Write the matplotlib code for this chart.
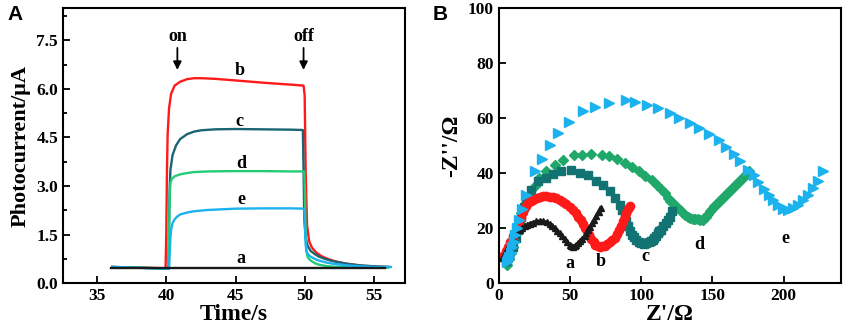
import matplotlib
matplotlib.use("Agg")
import matplotlib.pyplot as plt

plt.rcParams['font.family'] = ['Liberation Serif', 'DejaVu Serif']
plt.rcParams['font.weight'] = 'bold'

# ---- panel A : photocurrent vs time ----
t_a = [36.0, 55.8]
y_a = [0.47, 0.47]

t_b = [36.1, 39.95, 40.0, 40.05, 40.1, 40.2, 40.35, 40.6, 41.0, 41.5, 42.0, 42.5, 43.5, 45.0, 47.0, 49.0,
       49.9, 49.98, 50.05, 50.15, 50.3, 50.5, 50.8, 51.2, 51.7, 52.3, 53.0, 54.0, 55.0, 56.0]
y_b = [0.5, 0.46, 1.5, 3.5, 4.6, 5.4, 5.85, 6.1, 6.22, 6.3, 6.33, 6.33, 6.31, 6.26, 6.19, 6.13,
       6.1, 5.8, 3.5, 1.8, 1.3, 1.1, 0.95, 0.83, 0.74, 0.66, 0.6, 0.54, 0.51, 0.5]

t_c = [36.1, 40.15, 40.2, 40.25, 40.3, 40.45, 40.7, 41.0, 41.5, 42.0, 42.5, 43.5, 45.0, 47.0, 49.0,
       49.85, 49.9, 49.95, 50.05, 50.2, 50.4, 50.7, 51.0, 51.5, 52.0, 53.0, 54.0, 55.0, 56.0]
y_c = [0.5, 0.45, 1.8, 3.0, 3.5, 3.95, 4.25, 4.45, 4.6, 4.68, 4.72, 4.75, 4.76, 4.75, 4.74,
       4.73, 3.5, 2.0, 1.4, 1.15, 1.0, 0.9, 0.82, 0.74, 0.68, 0.6, 0.55, 0.52, 0.5]

t_d = [36.1, 40.15, 40.2, 40.25, 40.3, 40.4, 40.6, 41.0, 41.5, 42.0, 43.0, 45.0, 47.0, 49.0,
       49.95, 50.0, 50.05, 50.1, 50.2, 50.4, 50.7, 51.0, 51.5, 52.0, 53.0, 54.0, 55.0, 56.0]
y_d = [0.5, 0.45, 1.5, 2.7, 3.1, 3.22, 3.3, 3.36, 3.4, 3.43, 3.45, 3.46, 3.46, 3.45,
       3.45, 2.8, 1.6, 1.0, 0.8, 0.7, 0.62, 0.57, 0.53, 0.51, 0.49, 0.48, 0.48, 0.48]

t_e = [36.1, 40.2, 40.25, 40.3, 40.35, 40.45, 40.6, 40.8, 41.0, 41.5, 42.0, 43.0, 45.0, 47.0, 49.0,
       49.95, 50.0, 50.05, 50.1, 50.2, 50.4, 50.7, 51.0, 51.5, 52.0, 53.0, 54.0, 55.0, 56.2]
y_e = [0.5, 0.44, 0.9, 1.4, 1.65, 1.85, 1.97, 2.06, 2.12, 2.18, 2.22, 2.26, 2.3, 2.31, 2.31,
       2.3, 1.8, 1.2, 1.0, 0.9, 0.82, 0.75, 0.7, 0.64, 0.6, 0.55, 0.52, 0.5, 0.5]

# ---- panel B : Nyquist plots ----
zr_a = [2.5, 4, 6, 8, 10, 12, 14.7, 16.5, 18.2, 20, 21.7, 24, 26.4, 29, 31.1, 33.5, 35.7, 37.5, 39.3, 41, 42.8,
        44.5, 46.3, 48, 49.8, 51, 52.1, 53.3, 54.4, 55.6, 56.8, 58.5, 60.3, 61.5, 62.6, 64, 65.7, 67, 68.5, 70, 71.5]
zi_a = [9.0, 10.5, 12.5, 14.5, 16.5, 18.0, 19.4, 20.0, 20.6, 21.1, 21.6, 22.0, 22.4, 22.5, 22.4, 22.1, 21.6, 20.9, 20.0, 19.1, 18.2,
        17.1, 16.0, 14.9, 13.9, 13.5, 13.3, 13.5, 13.9, 14.5, 15.2, 16.1, 17.0, 18.2, 19.4, 20.5, 21.8, 23.1, 24.5, 25.9, 27.3]

zr_b = [3, 5, 6.5, 8, 10, 12, 13.6, 15.5, 17, 19, 20.6, 22.5, 24.1, 26.5, 28.7, 31, 33.4, 36, 38.1, 40.5, 42.8, 45, 47.4,
        50, 52.1, 54, 55.6, 57.5, 59.1, 60.5, 61.9, 63.5, 65.0, 66.5, 67.8, 69.3, 70.8, 72.5, 74.3, 76, 77.8,
        79.5, 81.3, 82.8, 84.3, 85.7, 87.1, 88.3, 89.5, 91, 92.3]
zi_b = [9.7, 11.5, 13.3, 15, 17, 19.2, 21.2, 23.8, 26, 28, 29.1, 29.8, 30.3, 30.9, 31.3, 31.5, 31.5, 31.4, 31.3, 30.9, 30.3, 29.6, 28.8,
        27.8, 26.7, 25.5, 24.2, 22.9, 21.6, 20.2, 18.8, 17.4, 16.0, 14.8, 13.9, 13.5, 13.3, 13.4, 13.6, 14.1, 14.8,
        15.5, 16.4, 17.9, 19.4, 20.9, 22.4, 23.9, 25.5, 26.9, 28.2]

zr_c = [5, 7.5, 10, 12, 13.6, 15, 15.9, 17.5, 19.4, 22.9, 27.6, 33.4, 38.1, 43.9, 50.9, 56.8, 62.6, 68.5, 73.1, 77.8, 81.3,
        84.8, 86.5, 88.3, 89.5, 90.7, 92.2, 93.7, 95, 96.5, 98.2, 100, 101.8, 103.5, 105.3, 107.0, 108.2, 109.3, 110.5, 111.7,
        112.8, 114.0, 115.5, 117.1, 118.5, 119.9, 121.7]
zi_c = [8, 10.5, 13.3, 16.5, 19.4, 22, 24.2, 27.5, 30.3, 33.9, 37.0, 38.2, 39.6, 40.6, 41.0, 40.0, 39.2, 37.2, 35.5, 33.3, 30.9,
        28.5, 26.7, 24.8, 22.7, 20.6, 19.0, 17.6, 16.7, 15.8, 15.0, 14.5, 14.4, 14.5, 14.8, 15.2, 15.8, 16.4, 17.3, 18.2,
        18.8, 19.4, 20.6, 21.8, 23.0, 24.2, 26.1]

zr_d = [5.8, 7.3, 8.9, 10, 11.2, 12.4, 13.6, 14.7, 15.9, 17.4, 18.9, 21.7, 25.2, 28.3, 33.4, 39.3, 45.1, 52.6, 58.6, 65.0,
        72.4, 77.1, 82.9, 88.3, 93.7, 98.1, 102.8, 107.5, 111.0, 114.0, 116.4, 118.7, 120.5, 122.2, 124, 125.7, 127.5, 129.2,
        131, 132.7, 134.5, 136.2, 138, 139.7, 141.5, 143.2, 144.4, 145.6, 147, 148.4, 150, 151.4, 153, 154.9, 156.5, 158.4,
        160, 161.9, 163.5, 165.4, 167, 168.9, 170.5, 172.4, 174, 175.9]
zi_d = [6.7, 8.6, 10.9, 13.3, 15.8, 18.5, 21.2, 23.3, 25.5, 27.3, 29.1, 32.1, 35.2, 38.2, 40.6, 43.0, 44.8, 46.5, 46.5, 46.8,
        46.7, 46.1, 45.1, 43.6, 42.2, 40.6, 39.0, 37.3, 35.8, 34.2, 32.7, 30.9, 30.0, 29.1, 28.2, 27.3, 26.4, 25.5,
        24.7, 24.0, 23.6, 23.3, 23.3, 23.3, 23.1, 23.0, 23.5, 24.2, 25.1, 26.1, 27.0, 27.9, 28.9, 29.9, 30.7, 31.5,
        32.4, 33.3, 34.3, 35.2, 36.1, 37.0, 37.9, 38.8, 39.7, 40.6]

zr_e = [5.5, 6.5, 7.5, 8.5, 9.5, 10.5, 11.5, 12.5, 14, 16, 19.4, 25.2, 30.4, 35.7, 41.8, 49.1, 59.1, 67.8, 77.3, 89.0,
        95.3, 104.2, 111.9, 120.3, 126.6, 134.1, 140.9, 147.9, 154.4, 159.6, 165.0, 169.6, 174.8, 179.0, 182.2, 186.4,
        190.0, 192.8, 195.8, 199.3, 202.8, 206.3, 209.8, 213.3, 216.8, 220.3, 223.8, 227.3]
zi_e = [7.5, 8.5, 9.5, 11, 13, 15, 17.5, 20, 23, 27, 32.1, 40.8, 45.1, 50.3, 54.5, 58.5, 62.4, 63.9, 65.5, 66.4,
        65.7, 64.7, 63.5, 61.8, 60.0, 58.2, 56.2, 54.2, 52.1, 49.5, 47.0, 44.2, 41.2, 39.2, 36.6, 34.2,
        32.1, 30.3, 28.5, 26.9, 26.7, 27.3, 28.5, 30.3, 32.1, 34.5, 37.0, 40.6]

col_a = "#1a1a1a"
col_b = "#ff1a1a"
col_c_a = "#1a6474"
col_c_b = "#137272"
col_d_a = "#22cc77"
col_d_b = "#1fa86a"
col_e = "#1cb2ee"

fig = plt.figure(figsize=(8.44, 3.30), dpi=100)

def style_axes(ax):
    for s in ax.spines.values():
        s.set_linewidth(1.5)
        s.set_color("black")
    ax.tick_params(direction="in", which="both", top=False, right=False, labelsize=12.5, width=1.3)
    ax.tick_params(which="major", length=5)
    ax.tick_params(which="minor", length=3)
    for lab in ax.get_xticklabels() + ax.get_yticklabels():
        lab.set_fontweight("bold")

# panel A
ax1 = fig.add_axes([0.0746, 0.142, 0.405, 0.834])
ax1.plot(t_b, y_b, color=col_b, lw=1.7)
ax1.plot(t_c, y_c, color=col_c_a, lw=1.7)
ax1.plot(t_d, y_d, color=col_d_a, lw=1.7)
ax1.plot(t_e, y_e, color=col_e, lw=1.7)
ax1.plot(t_a, y_a, color=col_a, lw=1.7)
ax1.set_xlim(32.55, 57.2)
ax1.set_ylim(0, 8.5)
ax1.set_xticks([35, 40, 45, 50, 55])
ax1.set_yticks([0.0, 1.5, 3.0, 4.5, 6.0, 7.5])
ax1.set_yticks([0.75, 2.25, 3.75, 5.25, 6.75, 8.25], minor=True)
ax1.set_yticklabels(["0.0", "1.5", "3.0", "4.5", "6.0", "7.5"])
style_axes(ax1)
ax1.set_xlabel("Time/s", fontsize=17, fontweight="bold", labelpad=0)
ax1.set_ylabel("Photocurrent/μA", fontsize=16, fontweight="bold", labelpad=4)

for lab, xx, yy in [("b", 45.3, 6.56), ("c", 45.3, 4.99), ("d", 45.4, 3.7), ("e", 45.4, 2.57), ("a", 45.4, 0.76)]:
    ax1.text(xx, yy, lab, fontsize=13, fontweight="bold", ha="center", va="center")
for lab, xx in [("on", 40.8), ("off", 49.9)]:
    ax1.text(xx, 7.63, lab, fontsize=13, fontweight="bold", ha="center", va="center")
    ax1.annotate("", xy=(xx, 6.5), xytext=(xx, 7.35),
                 arrowprops=dict(arrowstyle="-|>", color="black", lw=1.3, mutation_scale=12))

fig.text(0.009, 0.955, "A", fontsize=15, fontweight="bold", family="Liberation Sans", va="center")

# panel B
ax2 = fig.add_axes([0.591, 0.142, 0.405, 0.834])
ax2.plot(zr_d, zi_d, ls="none", marker="D", ms=5.5, color=col_d_b)
ax2.plot(zr_c, zi_c, ls="none", marker="s", ms=5.5, color=col_c_b)
ax2.plot(zr_b, zi_b, ls="none", marker="o", ms=6, color=col_b)
ax2.plot(zr_a, zi_a, ls="-", lw=2.5, marker="^", ms=5, color=col_a)
ax2.plot(zr_e, zi_e, ls="none", marker=">", ms=6.5, color=col_e)
ax2.set_xlim(0, 240)
ax2.set_ylim(0, 100)
ax2.set_xticks([0, 50, 100, 150, 200])
ax2.set_yticks([0, 20, 40, 60, 80, 100])
style_axes(ax2)
ax2.set_xlabel("Z'/Ω", fontsize=17, fontweight="bold", labelpad=0)
ax2.set_ylabel("-Z''/Ω", fontsize=17, fontweight="bold", labelpad=4)

for lab, xx, yy in [("a", 50.2, 7.0), ("b", 71.5, 7.9), ("c", 103, 9.7), ("d", 140.4, 13.9), ("e", 201, 16.4)]:
    ax2.text(xx, yy, lab, fontsize=13, fontweight="bold", ha="center", va="center")

fig.text(0.513, 0.955, "B", fontsize=15, fontweight="bold", family="Liberation Sans", va="center")

fig.savefig("out.png", dpi=100)
